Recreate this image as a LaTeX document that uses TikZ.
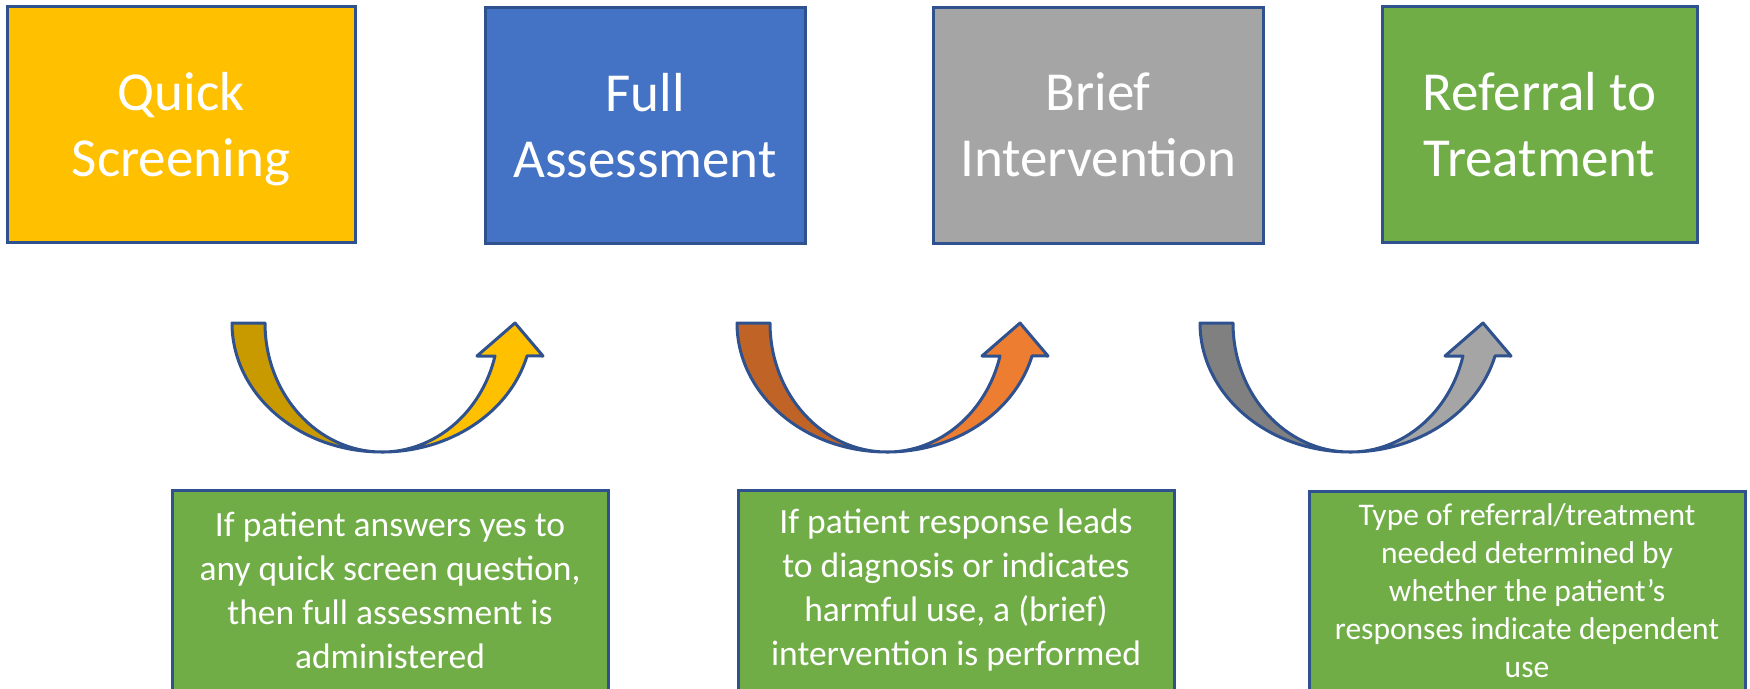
\documentclass[tikz,border=0pt]{standalone}
\usepackage{fontspec}
\setmainfont{Carlito}
\definecolor{edgeblue}{HTML}{2F528F}
\definecolor{stepgold}{HTML}{FFC000}
\definecolor{golddark}{HTML}{C99A00}
\definecolor{stepblue}{HTML}{4472C4}
\definecolor{stepgray}{HTML}{A5A5A5}
\definecolor{graydark}{HTML}{808080}
\definecolor{steporange}{HTML}{ED7D31}
\definecolor{orangedark}{HTML}{BF6426}
\definecolor{stepgreen}{HTML}{70AD47}

\begin{document}
\begin{tikzpicture}[x=1pt,y=-1pt,
	stage/.style={draw=edgeblue,line width=3pt,minimum height=236pt,inner sep=0pt,text depth=0pt,text=white,align=center,font=\fontsize{55}{66}\selectfont},
	note/.style={draw=edgeblue,fill=stepgreen,line width=3pt,minimum width=436pt,minimum height=200pt,inner sep=0pt,text=white,align=center}]
	\useasboundingbox (0,0) rectangle (1750,688);
	\clip (0,0) rectangle (1750,688);

	\node[stage,fill=stepgold,minimum width=348pt] (quick) at (181,124) {Quick\\Screening};
	\node[stage,fill=stepblue,minimum width=320pt] (full) at (645,125) {Full\\Assessment};
	\node[stage,fill=stepgray,minimum width=330pt] (brief) at (1098,125) {Brief\\Intervention};
	\node[stage,fill=stepgreen,minimum width=315pt] (referral) at (1539.5,124) {Referral to\\Treatment};

	\foreach \cx/\back/\front in {382/golddark/stepgold,887/orangedark/steporange,1350/graydark/stepgray} {
		\filldraw[fill=\back,draw=edgeblue,line width=3pt,line join=round] ({\cx-150},323) arc[start angle=180,end angle=90,x radius=150,y radius=129] arc[start angle=90,end angle=180,x radius=117,y radius=129] -- cycle;
		\filldraw[fill=\front,draw=edgeblue,line width=3pt,line join=round] (\cx,452) arc[start angle=90,end angle=14.8,x radius=150,y radius=129] -- ({\cx+161},356) -- ({\cx+133},323) -- ({\cx+95},356) -- ({\cx+113},356) arc[start angle=14.8,end angle=90,x radius=117,y radius=129] -- cycle;
	}

	\node[note,font=\fontsize{35.5}{44}\selectfont] (screennote) at (390,590) {If patient answers yes to\\any quick screen question,\\then full assessment is\\administered};
	\node[note,font=\fontsize{35.5}{44}\selectfont] (assessnote) at (956,590) {If patient response leads\\to diagnosis or indicates\\harmful use, a (brief)\\intervention is performed};
	\node[note,font=\fontsize{31.5}{38}\selectfont] (referralnote) at (1527,591) {Type of referral/treatment\\needed determined by\\whether the patient’s\\responses indicate dependent\\use};
\end{tikzpicture}
\end{document}
